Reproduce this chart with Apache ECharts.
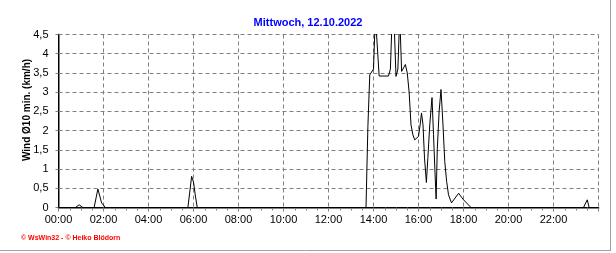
<!DOCTYPE html>
<html>
<head>
<meta charset="utf-8">
<script src="https://cdn.jsdelivr.net/npm/echarts@6/dist/echarts.min.js"></script>
<style>
html,body{margin:0;padding:0;background:#fff;}
#c{width:616px;height:253px;}
</style>
</head>
<body>
<div id="c"></div>
<script>
// Data
const titleText = "Mittwoch, 12.10.2022";
const yAxisName = "Wind Ø10 min. (km/h)";
const creditText = "© WsWin32 - © Heiko Blödorn";
const times = ["00:00","00:45","00:55","01:05","01:35","01:45","01:50","01:55","02:05",
  "05:45","05:50","05:55","06:00","06:05","06:10",
  "13:40","13:45","13:50","13:55","14:00","14:05","14:10","14:15","14:40","14:45",
  "14:50","14:55","15:00","15:05","15:10","15:15","15:20","15:25","15:30","15:35",
  "15:40","15:45","15:50","15:55","16:00","16:05","16:08","16:12","16:16","16:21",
  "16:25","16:30","16:36","16:40","16:44","16:47","16:50","16:55","17:00","17:05",
  "17:10","17:15","17:20","17:28","17:47","18:00","18:20","23:20","23:30","23:35","24:00"];
const values = [0,0,0.07,0,0,0.48,0.3,0.12,0,
  0,0.4,0.81,0.66,0.3,0,
  0,2.1,3.45,3.45,3.6,5.0,5.0,3.42,3.42,3.6,
  5.0,4.8,3.41,3.6,5.0,3.54,3.63,3.72,3.5,3.0,
  2.15,1.89,1.76,1.78,1.85,2.2,2.46,2.15,1.29,0.65,
  1.3,2.15,2.86,1.9,0.9,0.22,1.5,2.5,3.07,2.2,
  1.2,0.68,0.33,0.12,0.37,0.2,0,0,0.2,0,0];
const xTickLabels = ["00:00","02:00","04:00","06:00","08:00","10:00","12:00","14:00","16:00","18:00","20:00","22:00"];
const yMin = 0, yMax = 4.5, yStep = 0.5;

function toMin(s){ const p = s.split(":"); return (+p[0])*60 + (+p[1]); }
const seriesData = times.map((t,i)=>[toMin(t), values[i]]);

const chart = echarts.init(document.getElementById('c'), null, {renderer:'canvas'});
const labelFont = {fontFamily:'Liberation Sans, Arial, sans-serif', fontSize:11, color:'#000'};
chart.setOption({
  animation:false,
  backgroundColor:'#fff',
  title:{
    text:titleText, left:'center', top:12,
    textStyle:{color:'#0000ff', fontWeight:'bold', fontSize:11, fontFamily:'Liberation Sans, Arial, sans-serif'}
  },
  grid:{left:58.5, right:17.5, top:34.5, bottom:45.5, containLabel:false},
  xAxis:[{
    type:'value', min:0, max:1440, interval:120,
    axisLine:{show:true, onZero:false, lineStyle:{color:'#808080', width:2}},
    axisTick:{show:true, length:4, lineStyle:{color:'#808080'}},
    minorTick:{show:true, splitNumber:4, length:3, lineStyle:{color:'#808080'}},
    splitLine:{show:true, lineStyle:{color:'#808080', type:[4,3], width:1}},
    axisLabel:Object.assign({margin:7, formatter:(v)=>{
      const idx = Math.round(v/120); return idx < xTickLabels.length ? xTickLabels[idx] : '';
    }}, labelFont)
  },{
    type:'value', position:'top', min:0, max:1440,
    axisLine:{show:true, lineStyle:{color:'#000', width:1}},
    axisTick:{show:false}, axisLabel:{show:false}, splitLine:{show:false}
  }],
  yAxis:[{
    type:'value', min:yMin, max:yMax, interval:yStep,
    axisLine:{show:true, onZero:false, lineStyle:{color:'#808080', width:2}},
    axisTick:{show:true, length:3, lineStyle:{color:'#808080'}},
    splitLine:{show:true, lineStyle:{color:'#808080', type:[4,3], width:1}},
    axisLabel:Object.assign({margin:10, formatter:(v)=>String(v).replace('.',',')}, labelFont)
  },{
    type:'value', position:'right', min:yMin, max:yMax,
    axisLine:{show:true, lineStyle:{color:'#000', width:1}},
    axisTick:{show:false}, axisLabel:{show:false}, splitLine:{show:false}
  }],
  graphic:[
    {type:'text', x:27, y:110, rotation:Math.PI/2,
      style:{text:yAxisName, font:'bold 10px "Liberation Sans", Arial, sans-serif', fill:'#000', align:'center', verticalAlign:'middle'}},
    {type:'text', x:21, y:238,
      style:{text:creditText, font:'bold 7px "Liberation Sans", Arial, sans-serif', fill:'#ff0000', align:'left', verticalAlign:'middle'}},
    {type:'line', shape:{x1:610.5, y1:0, x2:610.5, y2:251}, style:{stroke:'#a0a0a0', lineWidth:1}},
    {type:'line', shape:{x1:0, y1:250.5, x2:611, y2:250.5}, style:{stroke:'#a0a0a0', lineWidth:1}}
  ],
  series:[{
    type:'line', data:seriesData, showSymbol:false, clip:true,
    lineStyle:{color:'#000', width:1}, itemStyle:{color:'#000'}, z:5
  }]
});
</script>
</body>
</html>
